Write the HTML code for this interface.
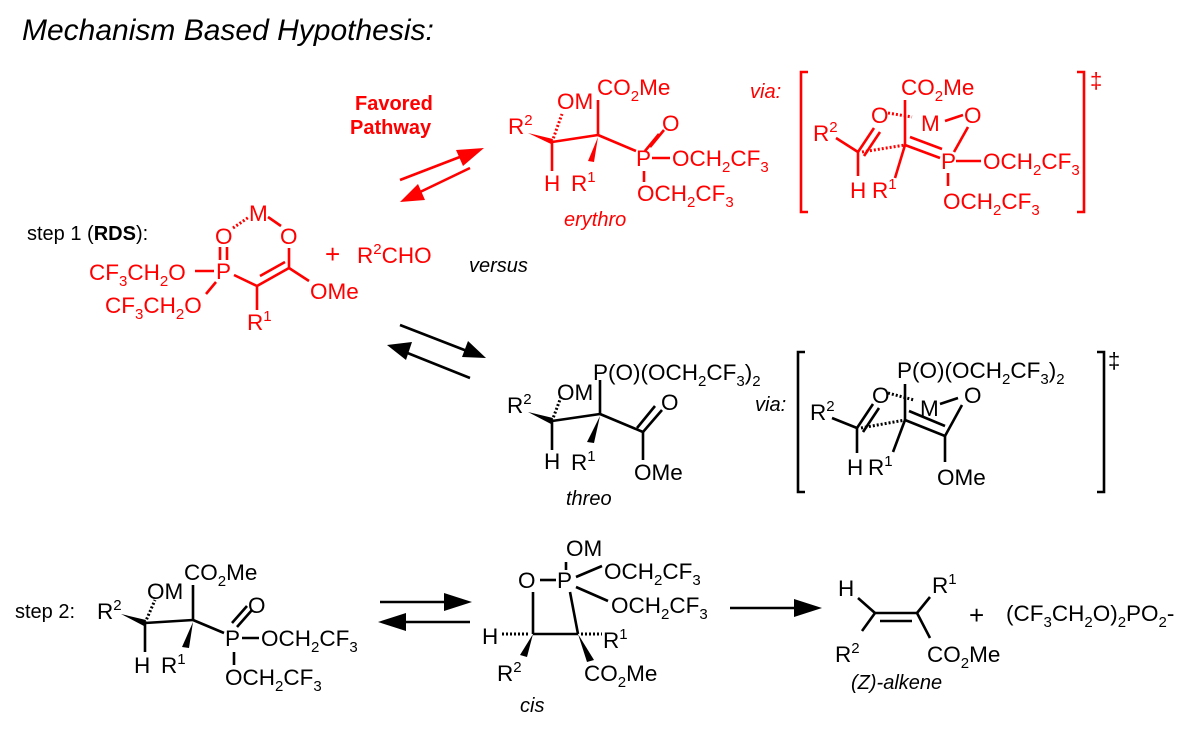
<!DOCTYPE html>
<html><head><meta charset="utf-8"><style>
html,body{margin:0;padding:0;background:#fff;}
svg{display:block;font-family:"Liberation Sans",Arial,sans-serif;}
text{font-size:22.5px;}
.r{fill:#f00;} .k{fill:#000;}
.rl{stroke:#f00;stroke-width:2.6;fill:none;}
.kl{stroke:#000;stroke-width:2.6;fill:none;}
.rd{stroke:#f00;stroke-width:3;fill:none;stroke-dasharray:2 2;}
.kd{stroke:#000;stroke-width:3;fill:none;stroke-dasharray:2 2;}
.s{font-size:20px;}
</style></head><body>
<svg width="1202" height="732" viewBox="0 0 1202 732" xmlns="http://www.w3.org/2000/svg">
<text x="22" y="40" font-style="italic" style="font-size:30px">Mechanism Based Hypothesis:</text>

<!-- ===== Step 1 reactant (red) ===== -->
<text x="27" y="240" class="k s">step 1 (<tspan font-weight="bold">RDS</tspan>):</text>
<g class="r">
<text x="249" y="221">M</text>
<text x="215" y="244">O</text>
<text x="280" y="244">O</text>
<text x="216" y="279">P</text>
<text x="89" y="280">CF<tspan font-size="15" dy="6">3</tspan><tspan dy="-6">CH</tspan><tspan font-size="15" dy="6">2</tspan><tspan dy="-6">O</tspan></text>
<text x="105" y="313">CF<tspan font-size="15" dy="6">3</tspan><tspan dy="-6">CH</tspan><tspan font-size="15" dy="6">2</tspan><tspan dy="-6">O</tspan></text>
<text x="310" y="299">OMe</text>
<text x="247" y="330">R<tspan font-size="15" dy="-9">1</tspan></text>
<text x="325" y="263" style="font-size:26px">+</text>
<text x="357" y="263">R<tspan font-size="15" dy="-9">2</tspan><tspan dy="9">CHO</tspan></text>
</g>
<line class="rd" x1="233" y1="228" x2="249" y2="217"/>
<line class="rl" x1="268" y1="217" x2="281" y2="226"/>
<line class="rl" x1="220" y1="247" x2="220" y2="260"/>
<line class="rl" x1="227" y1="247" x2="227" y2="260"/>
<line class="rl" x1="289" y1="248" x2="289" y2="268"/>
<line class="rl" x1="289" y1="268" x2="257" y2="286"/>
<line class="rl" x1="285" y1="262" x2="260" y2="276"/>
<line class="rl" x1="234" y1="275" x2="257" y2="286"/>
<line class="rl" x1="289" y1="268" x2="309" y2="281"/>
<line class="rl" x1="257" y1="286" x2="257" y2="310"/>
<line class="rl" x1="195" y1="271" x2="214" y2="271"/>
<line class="rl" x1="206" y1="294" x2="216" y2="282"/>
<text x="469" y="272" font-style="italic" class="s">versus</text>

<!-- red arrows -->
<text x="355" y="110" class="r" font-weight="bold" style="font-size:20px">Favored</text>
<text x="350" y="134" class="r" font-weight="bold" style="font-size:20px">Pathway</text>
<line class="rl" x1="400" y1="180" x2="465" y2="155"/>
<polygon points="484,148 456,150 463,166" class="r"/>
<line class="rl" x1="470" y1="168" x2="418" y2="193"/>
<polygon points="400,202 418,184 425,200" class="r"/>

<!-- ===== erythro (red) ===== -->
<g class="r">
<text x="557" y="109">OM</text>
<text x="597" y="95">CO<tspan font-size="15" dy="6">2</tspan><tspan dy="-6">Me</tspan></text>
<text x="508" y="134">R<tspan font-size="15" dy="-9">2</tspan></text>
<text x="662" y="131">O</text>
<text x="636" y="166">P</text>
<text x="672" y="166">OCH<tspan font-size="15" dy="6">2</tspan><tspan dy="-6">CF</tspan><tspan font-size="15" dy="6">3</tspan></text>
<text x="544" y="191">H</text>
<text x="571" y="191">R<tspan font-size="15" dy="-9">1</tspan></text>
<text x="637" y="201">OCH<tspan font-size="15" dy="6">2</tspan><tspan dy="-6">CF</tspan><tspan font-size="15" dy="6">3</tspan></text>
<text x="564" y="226" font-style="italic" class="s">erythro</text>
<polygon points="528,133 551,144 553,139"/>
<polygon points="598,137 588,161 594,162"/>
</g>
<line class="rd" x1="552" y1="142" x2="562" y2="114"/>
<line class="rl" x1="552" y1="142" x2="552" y2="171"/>
<line class="rl" x1="552" y1="142" x2="598" y2="135"/>
<line class="rl" x1="598" y1="135" x2="598" y2="100"/>
<line class="rl" x1="598" y1="135" x2="636" y2="151"/>
<line class="rl" x1="650" y1="147" x2="664" y2="130"/>
<line class="rl" x1="645" y1="151" x2="659" y2="134"/>
<line class="rl" x1="652" y1="158" x2="670" y2="158"/>
<line class="rl" x1="644" y1="171" x2="644" y2="182"/>

<!-- ===== red TS ===== -->
<text x="750" y="98" class="r s" font-style="italic">via:</text>
<path class="rl" d="M808,72 H801 V212 H808"/>
<path class="rl" d="M1077,72 H1084 V212 H1077"/>
<text x="1090" y="88" class="r" style="font-size:22px">‡</text>
<g class="r">
<text x="901" y="95">CO<tspan font-size="15" dy="6">2</tspan><tspan dy="-6">Me</tspan></text>
<text x="871" y="123">O</text>
<text x="921" y="131">M</text>
<text x="964" y="123">O</text>
<text x="813" y="141">R<tspan font-size="15" dy="-9">2</tspan></text>
<text x="941" y="169">P</text>
<text x="983" y="169">OCH<tspan font-size="15" dy="6">2</tspan><tspan dy="-6">CF</tspan><tspan font-size="15" dy="6">3</tspan></text>
<text x="850" y="198">H</text>
<text x="872" y="198">R<tspan font-size="15" dy="-9">1</tspan></text>
<text x="943" y="209">OCH<tspan font-size="15" dy="6">2</tspan><tspan dy="-6">CF</tspan><tspan font-size="15" dy="6">3</tspan></text>
</g>
<line class="rl" x1="836" y1="138" x2="858" y2="152"/>
<line class="rl" x1="858" y1="152" x2="874" y2="128"/>
<line class="rl" x1="864" y1="156" x2="880" y2="132"/>
<line class="rl" x1="858" y1="152" x2="858" y2="176"/>
<line class="rd" x1="862" y1="152" x2="905" y2="145"/>
<line class="rl" x1="905" y1="145" x2="905" y2="100"/>
<line class="rl" x1="905" y1="145" x2="895" y2="178"/>
<line class="rl" x1="905" y1="145" x2="940" y2="158"/>
<line class="rl" x1="910" y1="137" x2="942" y2="149"/>
<line class="rd" x1="888" y1="113" x2="912" y2="117"/>
<line class="rl" x1="945" y1="121" x2="963" y2="115"/>
<line class="rl" x1="968" y1="127" x2="954" y2="152"/>
<line class="rl" x1="956" y1="161" x2="981" y2="161"/>
<line class="rl" x1="948" y1="173" x2="948" y2="186"/>

<!-- black arrows -->
<line class="kl" x1="400" y1="325" x2="467" y2="351"/>
<polygon points="486,358 468,341 462,357" class="k"/>
<line class="kl" x1="470" y1="378" x2="405" y2="352"/>
<polygon points="387,345 412,342 406,360" class="k"/>

<!-- ===== threo ===== -->
<g class="k">
<text x="593" y="380">P(O)(OCH<tspan font-size="15" dy="6">2</tspan><tspan dy="-6">CF</tspan><tspan font-size="15" dy="6">3</tspan><tspan dy="-6">)</tspan><tspan font-size="15" dy="6">2</tspan></text>
<text x="557" y="400">OM</text>
<text x="661" y="410">O</text>
<text x="507" y="413">R<tspan font-size="15" dy="-9">2</tspan></text>
<text x="544" y="469">H</text>
<text x="571" y="470">R<tspan font-size="15" dy="-9">1</tspan></text>
<text x="634" y="480">OMe</text>
<text x="566" y="505" font-style="italic" class="s">threo</text>
<polygon points="528,412 551,424 553,418"/>
<polygon points="600,416 587,442 594,443"/>
</g>
<line class="kd" x1="552" y1="421" x2="561" y2="397"/>
<line class="kl" x1="552" y1="421" x2="552" y2="450"/>
<line class="kl" x1="552" y1="421" x2="600" y2="414"/>
<line class="kl" x1="600" y1="414" x2="600" y2="380"/>
<line class="kl" x1="600" y1="414" x2="643" y2="432"/>
<line class="kl" x1="643" y1="432" x2="662" y2="410"/>
<line class="kl" x1="637" y1="428" x2="655" y2="406"/>
<line class="kl" x1="643" y1="432" x2="643" y2="460"/>

<!-- ===== black TS ===== -->
<text x="755" y="411" font-style="italic" class="s">via:</text>
<path class="kl" d="M805,352 H798 V492 H805"/>
<path class="kl" d="M1097,352 H1104 V492 H1097"/>
<text x="1108" y="368" style="font-size:22px">‡</text>
<g class="k">
<text x="897" y="378">P(O)(OCH<tspan font-size="15" dy="6">2</tspan><tspan dy="-6">CF</tspan><tspan font-size="15" dy="6">3</tspan><tspan dy="-6">)</tspan><tspan font-size="15" dy="6">2</tspan></text>
<text x="872" y="403">O</text>
<text x="920" y="416">M</text>
<text x="964" y="403">O</text>
<text x="810" y="420">R<tspan font-size="15" dy="-9">2</tspan></text>
<text x="847" y="475">H</text>
<text x="868" y="475">R<tspan font-size="15" dy="-9">1</tspan></text>
<text x="937" y="485">OMe</text>
</g>
<line class="kl" x1="832" y1="418" x2="857" y2="428"/>
<line class="kl" x1="857" y1="428" x2="873" y2="404"/>
<line class="kl" x1="863" y1="432" x2="879" y2="408"/>
<line class="kl" x1="857" y1="428" x2="857" y2="453"/>
<line class="kd" x1="861" y1="428" x2="905" y2="420"/>
<line class="kl" x1="905" y1="420" x2="905" y2="384"/>
<line class="kl" x1="905" y1="420" x2="893" y2="452"/>
<line class="kl" x1="905" y1="420" x2="945" y2="436"/>
<line class="kl" x1="909" y1="411" x2="945" y2="426"/>
<line class="kd" x1="888" y1="393" x2="914" y2="400"/>
<line class="kl" x1="940" y1="404" x2="958" y2="398"/>
<line class="kl" x1="962" y1="405" x2="945" y2="436"/>
<line class="kl" x1="945" y1="436" x2="945" y2="462"/>

<!-- ===== step 2 ===== -->
<g class="k">
<text x="15" y="618" class="s">step 2:</text>
<text x="97" y="619">R<tspan font-size="15" dy="-9">2</tspan></text>
<text x="147" y="599">OM</text>
<text x="184" y="580">CO<tspan font-size="15" dy="6">2</tspan><tspan dy="-6">Me</tspan></text>
<text x="248" y="613">O</text>
<text x="225" y="646">P</text>
<text x="261" y="646">OCH<tspan font-size="15" dy="6">2</tspan><tspan dy="-6">CF</tspan><tspan font-size="15" dy="6">3</tspan></text>
<text x="134" y="673">H</text>
<text x="161" y="673">R<tspan font-size="15" dy="-9">1</tspan></text>
<text x="225" y="685">OCH<tspan font-size="15" dy="6">2</tspan><tspan dy="-6">CF</tspan><tspan font-size="15" dy="6">3</tspan></text>
<polygon points="121,614 144,626 146,620"/>
<polygon points="193,622 182,647 189,648"/>
</g>
<line class="kd" x1="145" y1="623" x2="155" y2="600"/>
<line class="kl" x1="145" y1="623" x2="145" y2="652"/>
<line class="kl" x1="145" y1="623" x2="193" y2="620"/>
<line class="kl" x1="193" y1="620" x2="193" y2="585"/>
<line class="kl" x1="193" y1="620" x2="224" y2="633"/>
<line class="kl" x1="237" y1="627" x2="252" y2="610"/>
<line class="kl" x1="232" y1="623" x2="247" y2="606"/>
<line class="kl" x1="242" y1="638" x2="259" y2="638"/>
<line class="kl" x1="234" y1="652" x2="234" y2="665"/>

<line class="kl" x1="380" y1="602" x2="448" y2="602"/>
<polygon points="472,602 444,593 444,611" class="k"/>
<line class="kl" x1="470" y1="622" x2="402" y2="622"/>
<polygon points="378,622 406,613 406,631" class="k"/>

<!-- cis -->
<g class="k">
<text x="566" y="556">OM</text>
<text x="518" y="588">O</text>
<text x="557" y="588">P</text>
<text x="604" y="579">OCH<tspan font-size="15" dy="6">2</tspan><tspan dy="-6">CF</tspan><tspan font-size="15" dy="6">3</tspan></text>
<text x="611" y="613">OCH<tspan font-size="15" dy="6">2</tspan><tspan dy="-6">CF</tspan><tspan font-size="15" dy="6">3</tspan></text>
<text x="482" y="644">H</text>
<text x="603" y="648">R<tspan font-size="15" dy="-9">1</tspan></text>
<text x="497" y="681">R<tspan font-size="15" dy="-9">2</tspan></text>
<text x="584" y="681">CO<tspan font-size="15" dy="6">2</tspan><tspan dy="-6">Me</tspan></text>
<text x="520" y="712" font-style="italic" class="s">cis</text>
<polygon points="533,634 520,655 527,657"/>
<polygon points="578,634 587,662 594,660"/>
</g>
<line class="kl" x1="540" y1="580" x2="556" y2="580"/>
<line class="kl" x1="566" y1="562" x2="566" y2="570"/>
<line class="kl" x1="576" y1="577" x2="602" y2="566"/>
<line class="kl" x1="576" y1="587" x2="608" y2="601"/>
<line class="kl" x1="533" y1="592" x2="533" y2="634"/>
<line class="kl" x1="570" y1="592" x2="578" y2="634"/>
<line class="kl" x1="533" y1="634" x2="578" y2="634"/>
<line class="kd" x1="502" y1="634" x2="530" y2="634"/>
<line class="kd" x1="581" y1="634" x2="602" y2="634"/>

<line class="kl" x1="730" y1="608" x2="798" y2="608"/>
<polygon points="822,608 794,599 794,617" class="k"/>

<!-- alkene -->
<g class="k">
<text x="838" y="596">H</text>
<text x="932" y="593">R<tspan font-size="15" dy="-9">1</tspan></text>
<text x="835" y="662">R<tspan font-size="15" dy="-9">2</tspan></text>
<text x="927" y="662">CO<tspan font-size="15" dy="6">2</tspan><tspan dy="-6">Me</tspan></text>
<text x="851" y="689" font-style="italic" class="s">(Z)-alkene</text>
<text x="969" y="624" style="font-size:26px">+</text>
<text x="1006" y="621">(CF<tspan font-size="15" dy="6">3</tspan><tspan dy="-6">CH</tspan><tspan font-size="15" dy="6">2</tspan><tspan dy="-6">O)</tspan><tspan font-size="15" dy="6">2</tspan><tspan dy="-6">PO</tspan><tspan font-size="15" dy="6">2</tspan><tspan dy="-6">-</tspan></text>
</g>
<line class="kl" x1="875" y1="613" x2="917" y2="613"/>
<line class="kl" x1="880" y1="621" x2="912" y2="621"/>
<line class="kl" x1="875" y1="613" x2="858" y2="598"/>
<line class="kl" x1="875" y1="613" x2="862" y2="631"/>
<line class="kl" x1="917" y1="613" x2="930" y2="597"/>
<line class="kl" x1="917" y1="613" x2="930" y2="638"/>
</svg>
</body></html>
